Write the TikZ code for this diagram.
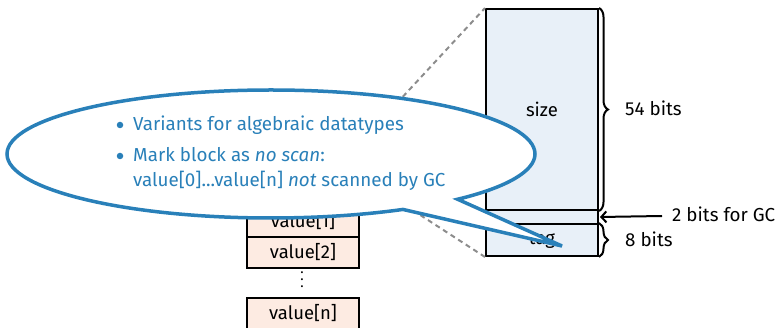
\documentclass[tikz,border=0pt]{standalone}
\usepackage{fontspec}
\setmainfont{Fira Sans}
\usetikzlibrary{shapes.callouts,decorations.pathreplacing,arrows.meta}
\definecolor{cblue}{RGB}{41,128,185}
\definecolor{hdrfill}{RGB}{232,240,248}
\definecolor{valfill}{RGB}{253,235,226}
\tikzset{
  cell/.style={draw=black,line width=2pt,minimum width=112pt,inner sep=0pt,anchor=north west,font=\fontsize{18.5}{20}\selectfont},
  valcell/.style={cell,fill=valfill,minimum height=31pt},
  hdrcell/.style={cell,fill=hdrfill},
  lbl/.style={anchor=base west,inner sep=0pt,font=\fontsize{18.8}{22}\selectfont},
  btxt/.style={anchor=base west,inner sep=0pt,text=cblue,font=\fontsize{18.8}{22}\selectfont},
  bul/.style={circle,fill=cblue,inner sep=0pt,minimum size=6.5pt},
  bracestyle/.style={decorate,decoration={brace,amplitude=9pt},line width=2pt},
  dashline/.style={draw=gray!90,line width=2pt,dash pattern=on 5pt off 4pt}
}
\begin{document}
\begin{tikzpicture}[x=1pt,y=-1pt]
\useasboundingbox (0,0) rectangle (778,328);
% small block (header and value[0] lie under the callout)
\node[hdrcell,minimum height=31pt] (hdr) at (246,143) {};
\node[valcell] (v0) at (246,174) {};
\node[valcell] (v1) at (246,205) {value[1]};
\node[valcell] (v2) at (246,236) {value[2]};
\node[font=\fontsize{14}{7}\selectfont,inner sep=0pt,align=center] (dots) at (302,280) {.\\.\\.};
\node[valcell] (vn) at (246,297) {value[n]};
% big header
\node[hdrcell,minimum height=201pt] (size) at (485,8) {size};
\node[hdrcell,minimum height=14pt] (gc) at (485,209) {};
\node[hdrcell,minimum height=32pt] (tag) at (485,223) {tag};
% dashed zoom lines
\draw[dashline] (hdr.north east) -- (size.north west);
\draw[dashline] (hdr.south east) -- (tag.south west);
% braces
\draw[bracestyle] (size.north east) -- (size.south east);
\draw[bracestyle] (tag.north east) -- (tag.south east);
\node[lbl] (b54) at (625,116) {54 bits};
\node[lbl] (b8) at (625,247) {8 bits};
\coordinate (arrstart) at (662,216);
\draw[line width=2pt,-{Straight Barb[length=5pt,width=11pt]}] (arrstart) -- ([xshift=1pt]gc.east);
\node[lbl] (bgc) at (672,222) {2 bits for GC};
% callout
\coordinate (tip) at (562,246);
\node[ellipse callout,draw=cblue,line width=3.5pt,fill=white,minimum width=528pt,minimum height=128pt,inner sep=0pt,callout absolute pointer={(tip)}] (call) at (271,154) {};
\node[bul] (bu1) at (120,125) {};
\node[btxt] (t1) at (133,131) {Variants for algebraic datatypes};
\node[bul] (bu2) at (120,156) {};
\node[btxt] (t2) at (133,162) {Mark block as \textit{no scan}:};
\node[btxt] (t3) at (133,187) {value[0]...value[n] \textit{not} scanned by GC};
\end{tikzpicture}
\end{document}
